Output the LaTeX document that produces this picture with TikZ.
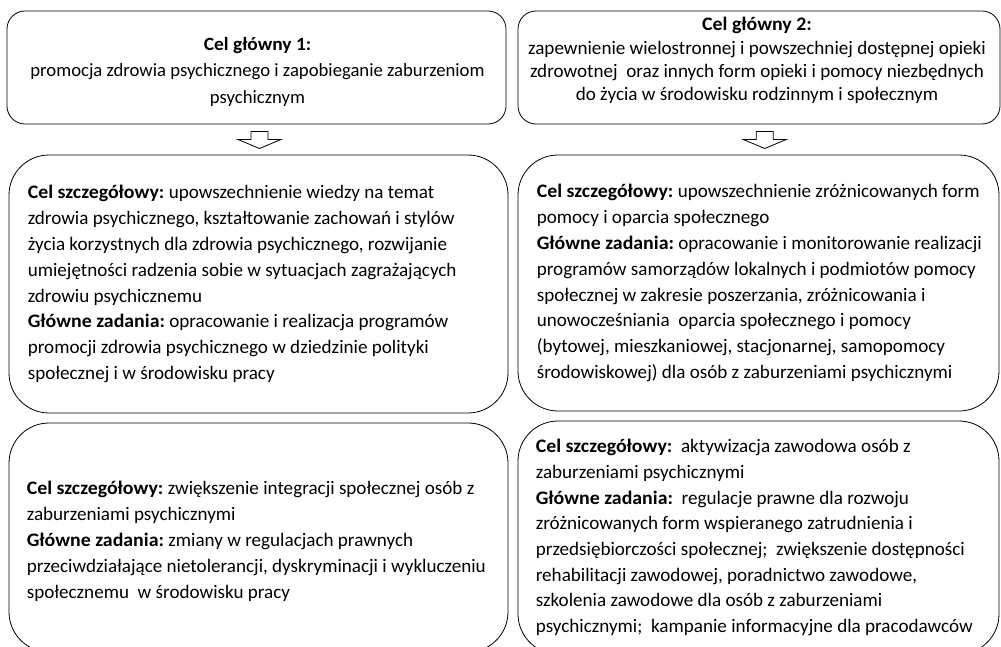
\documentclass[tikz,border=0pt]{standalone}
\usepackage{fontspec}
\setmainfont{Carlito}
\usetikzlibrary{calc}
\frenchspacing
\newcommand{\bx}[1]{{\bfseries\addfontfeature{FakeStretch=1.04}#1}}
\begin{document}
\begin{tikzpicture}[x=1pt,y=-1pt,
  box/.style={draw=black, line width=0.8pt, inner sep=0pt, anchor=center},
  topbox/.style={box, rounded corners=18pt, minimum height=113pt},
  subbox/.style={box, rounded corners=40pt},
  toptext/.style={align=center, inner sep=0pt, anchor=center},
  subtext/.style={align=left, inner sep=0pt, anchor=west, font=\fontsize{19.1}{25.9}\selectfont},
  blockarrow/.style={draw=black, line width=0.8pt, fill=white, line join=miter}]
\useasboundingbox (0,0) rectangle (1001,647);
\clip (0,0) rectangle (1001,647);

% top boxes
\node[topbox, minimum width=499pt] (b1) at (256.5,67.5) {};
\node[toptext, font=\fontsize{18.7}{26.5}\selectfont] (t1) at ($(b1.center)+(1,4)$)
 {\bx{Cel główny 1:}\\promocja zdrowia psychicznego i zapobieganie zaburzeniom\\psychicznym};
\node[topbox, minimum width=482pt] (b2) at (759,67.5) {};
\node[toptext, font=\fontsize{19.1}{23.3}\selectfont] (t2) at ($(b2.center)+(-2,-7)$)
 {\bx{Cel główny 2:}\\zapewnienie wielostronnej i powszechniej dostępnej opieki\\zdrowotnej \ oraz innych form opieki i pomocy niezbędnych\\do życia w środowisku rodzinnym i społecznym};

% detailed boxes
\node[subbox, minimum width=499pt, minimum height=258pt] (b3) at (258.5,284) {};
\node[subtext] (t3) at ($(b3.west)+(19,0)$)
 {\bx{Cel szczegółowy:} upowszechnienie wiedzy na temat\\
 zdrowia psychicznego, kształtowanie zachowań i stylów\\
 życia korzystnych dla zdrowia psychicznego, rozwijanie\\
 umiejętności radzenia sobie w sytuacjach zagrażających\\
 zdrowiu psychicznemu\\
 \bx{Główne zadania:} opracowanie i realizacja programów\\
 promocji zdrowia psychicznego w dziedzinie polityki\\
 społecznej i w środowisku pracy};

\node[subbox, minimum width=481pt, minimum height=256pt] (b4) at (758.5,283) {};
\node[subtext] (t4) at ($(b4.west)+(19,0)$)
 {\bx{Cel szczegółowy:} upowszechnienie zróżnicowanych form\\
 pomocy i oparcia społecznego\\
 \bx{Główne zadania:} opracowanie i monitorowanie realizacji\\
 programów samorządów lokalnych i podmiotów pomocy\\
 społecznej w zakresie poszerzania, zróżnicowania i\\
 unowocześniania \ oparcia społecznego i pomocy\\
 (bytowej, mieszkaniowej, stacjonarnej, samopomocy\\
 środowiskowej) dla osób z zaburzeniami psychicznymi};

\node[subbox, minimum width=499pt, minimum height=229pt] (b5) at (258.5,537.5) {};
\node[subtext] (t5) at ($(b5.west)+(18,4)$)
 {\bx{Cel szczegółowy:} zwiększenie integracji społecznej osób z\\
 zaburzeniami psychicznymi\\
 \bx{Główne zadania:} zmiany w regulacjach prawnych\\
 przeciwdziałające nietolerancji, dyskryminacji i wykluczeniu\\
 społecznemu \ w środowisku pracy};

\node[subbox, minimum width=481pt, minimum height=233pt] (b6) at (758.5,537.5) {};
\node[subtext, font=\fontsize{19.1}{25.7}\selectfont] (t6) at ($(b6.west)+(18,0)$)
 {\bx{Cel szczegółowy:} \ aktywizacja zawodowa osób z\\
 zaburzeniami psychicznymi\\
 \bx{Główne zadania:} \ regulacje prawne dla rozwoju\\
 zróżnicowanych form wspieranego zatrudnienia i\\
 przedsiębiorczości społecznej; \ zwiększenie dostępności\\
 rehabilitacji zawodowej, poradnictwo zawodowe,\\
 szkolenia zawodowe dla osób z zaburzeniami\\
 psychicznymi; \ kampanie informacyjne dla pracodawców};

% block arrows
\coordinate (a1) at ($(b1.south)!0.5!(b3.north)+(2,0.5)$);
\coordinate (a2) at ($(b2.south)!0.5!(b4.north)+(6,0.5)$);
\foreach \a in {a1,a2}{
  \draw[blockarrow, shift={(\a)}] (-8.5,-8.5) -- (8.5,-8.5) -- (8.5,-0.5) -- (21.5,-0.5) -- (0,8.5) -- (-21.5,-0.5) -- (-8.5,-0.5) -- cycle;
}
\end{tikzpicture}
\end{document}
